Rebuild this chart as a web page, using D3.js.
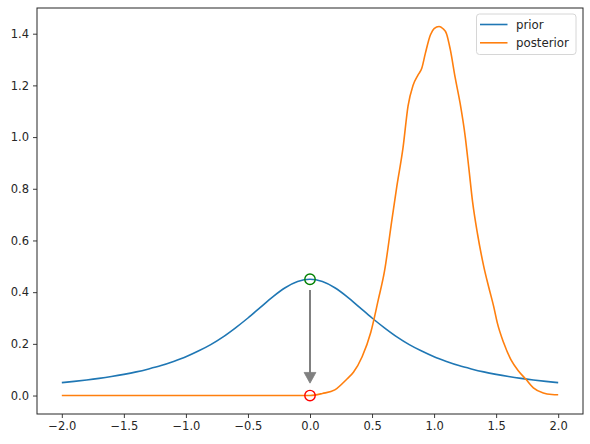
<!DOCTYPE html>
<html>
<head>
<meta charset="utf-8">
<script src="https://cdn.jsdelivr.net/npm/d3@7"></script>
<style>
  html, body { margin: 0; padding: 0; background: #fff; }
  svg { display: block; }
  text { font-family: "DejaVu Sans", sans-serif; }
</style>
</head>
<body>
<svg id="chart" width="590" height="444"></svg>
<script>
// ---- data ----
const priorX = [-2.0,-1.9,-1.8,-1.7,-1.6,-1.5,-1.4,-1.3,-1.2,-1.1,-1.0,-0.9,-0.8,-0.7,-0.6,-0.5,-0.4,-0.3,-0.2,-0.1,
                0.0,0.1,0.2,0.3,0.4,0.5,0.6,0.7,0.8,0.9,1.0,1.1,1.2,1.3,1.4,1.5,1.6,1.7,1.8,1.9,2.0];
const priorY = [0.050,0.0548,0.0602,0.0664,0.0736,0.0819,0.0915,0.103,0.116,0.132,0.150,0.172,0.197,0.227,0.262,0.300,0.341,0.382,0.417,0.441,
                0.450,0.441,0.417,0.382,0.341,0.300,0.262,0.227,0.197,0.172,0.150,0.132,0.116,0.103,0.0915,0.0819,0.0736,0.0664,0.0602,0.0548,0.050];

const posteriorX = [-2.0,-1.0,0.0,0.1,0.2,0.3,0.35,0.42,0.49,0.55,0.6,0.66,0.70,0.75,0.79,0.83,0.87,0.90,0.93,0.97,
                    1.00,1.04,1.07,1.10,1.13,1.17,1.21,1.25,1.28,1.31,1.35,1.40,1.44,1.48,1.51,1.56,1.62,1.68,1.74,1.80,1.88,1.95,2.0];
const posteriorY = [0,0,0,0.008,0.022,0.065,0.09,0.15,0.245,0.37,0.48,0.68,0.81,0.96,1.12,1.20,1.24,1.265,1.325,1.395,
                    1.42,1.428,1.42,1.40,1.34,1.23,1.13,1.005,0.88,0.75,0.625,0.50,0.42,0.345,0.28,0.205,0.138,0.095,0.063,0.03,0.01,0.004,0.003];

const xTicks = [-2.0,-1.5,-1.0,-0.5,0.0,0.5,1.0,1.5,2.0];
const yTicks = [0.0,0.2,0.4,0.6,0.8,1.0,1.2,1.4];

const seriesNames = ["prior", "posterior"];
const seriesColors = ["#1f77b4", "#ff7f0e"];

// annotation: marker at prior peak, marker at posterior value, arrow between
const markerPrior = [0.0, 0.45];
const markerPosterior = [0.0, 0.0];

// ---- layout ----
const svg = d3.select("#chart");
const m = { left: 37, right: 583, top: 8, bottom: 414 };

const x = d3.scaleLinear().domain([-2.2, 2.2]).range([m.left, m.right]);
const y = d3.scaleLinear().domain([-0.0714, 1.4994]).range([m.bottom, m.top]);

const fmt = d3.format(".1f");

// axes
const xAxis = d3.axisBottom(x).tickValues(xTicks).tickFormat(fmt).tickSizeInner(4).tickSizeOuter(0).tickPadding(4);
const yAxis = d3.axisLeft(y).tickValues(yTicks).tickFormat(fmt).tickSizeInner(4).tickSizeOuter(0).tickPadding(4);

const gx = svg.append("g").attr("transform", `translate(0,${m.bottom})`).call(xAxis);
const gy = svg.append("g").attr("transform", `translate(${m.left},0)`).call(yAxis);
[gx, gy].forEach(g => {
  g.select(".domain").remove();
  g.selectAll("text").attr("font-size", "11.5px").attr("fill", "#262626").attr("font-family", "DejaVu Sans, sans-serif");
  g.selectAll("line").attr("stroke", "#262626").attr("stroke-width", 0.9);
});

// lines
const line = d3.line().x(d => x(d[0])).y(d => y(d[1])).curve(d3.curveMonotoneX);
const priorData = priorX.map((v, i) => [v, priorY[i]]);
const postData = posteriorX.map((v, i) => [v, posteriorY[i]]);

svg.append("path").datum(priorData).attr("d", line)
  .attr("fill", "none").attr("stroke", seriesColors[0]).attr("stroke-width", 1.6);
svg.append("path").datum(postData).attr("d", line)
  .attr("fill", "none").attr("stroke", seriesColors[1]).attr("stroke-width", 1.6);

// arrow
const ax = x(markerPrior[0]);
const yStart = y(markerPrior[1]) + 10.7;
const yTip = y(markerPosterior[1]) - 12.4;
const headLen = 10.7, headHalf = 5.9;
svg.append("line")
  .attr("x1", ax).attr("x2", ax)
  .attr("y1", yStart).attr("y2", yTip - headLen + 1)
  .attr("stroke", "#808080").attr("stroke-width", 2);
svg.append("path")
  .attr("d", `M${ax - headHalf},${yTip - headLen} L${ax + headHalf},${yTip - headLen} L${ax},${yTip} Z`)
  .attr("fill", "#808080").attr("stroke", "#808080").attr("stroke-width", 0.8);

// markers
svg.append("circle").attr("cx", x(markerPrior[0])).attr("cy", y(markerPrior[1])).attr("r", 5.2)
  .attr("fill", "none").attr("stroke", "#008000").attr("stroke-width", 1.4);
svg.append("circle").attr("cx", x(markerPosterior[0])).attr("cy", y(markerPosterior[1])).attr("r", 5.2)
  .attr("fill", "none").attr("stroke", "#ff0000").attr("stroke-width", 1.4);

// frame
svg.append("rect").attr("x", m.left).attr("y", m.top)
  .attr("width", m.right - m.left).attr("height", m.bottom - m.top)
  .attr("fill", "none").attr("stroke", "#262626").attr("stroke-width", 1);

// legend
const lg = svg.append("g");
lg.append("rect").attr("x", 476.5).attr("y", 14).attr("width", 99.5).attr("height", 40.5)
  .attr("rx", 3).attr("fill", "#fff").attr("fill-opacity", 0.8)
  .attr("stroke", "#d6d6d6").attr("stroke-width", 1);
seriesNames.forEach((name, i) => {
  const yy = 24.5 + i * 18.3;
  lg.append("line").attr("x1", 480).attr("x2", 507.5).attr("y1", yy).attr("y2", yy)
    .attr("stroke", seriesColors[i]).attr("stroke-width", 1.6);
  lg.append("text").attr("x", 516).attr("y", yy + 4.2).text(name)
    .attr("font-size", "11.8px").attr("fill", "#262626");
});
</script>
</body>
</html>
